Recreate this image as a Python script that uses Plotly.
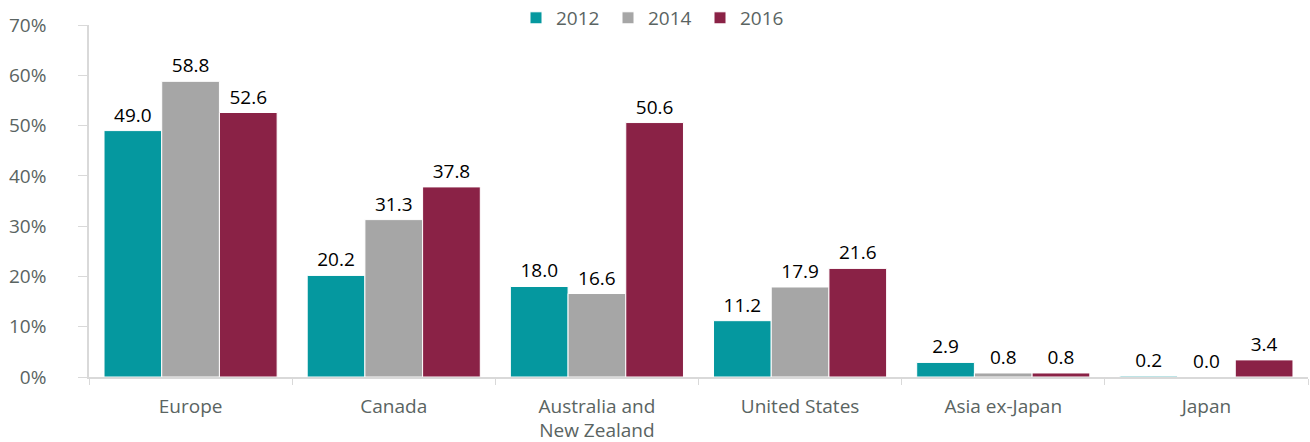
import plotly.graph_objects as go

categories = ["Europe", "Canada", "Australia and<br>New Zealand", "United States", "Asia ex-Japan", "Japan"]
v2012 = [49.0, 20.2, 18.0, 11.2, 2.9, 0.2]
v2014 = [58.8, 31.3, 16.6, 17.9, 0.8, 0.0]
v2016 = [52.6, 37.8, 50.6, 21.6, 0.8, 3.4]
series = [("2012", v2012, "#05989F"), ("2014", v2014, "#A6A6A6"), ("2016", v2016, "#8A2246")]

FONT = "Open Sans, Noto Sans, sans-serif"
fig = go.Figure()
for name, vals, col in series:
    fig.add_trace(go.Bar(
        name=name, x=categories, y=vals,
        marker=dict(color=col, line=dict(color="white", width=1)),
        text=[f"{v:.1f}" for v in vals], textposition="outside",
        textfont=dict(color="black", size=19, family=FONT),
        cliponaxis=False,
    ))

fig.update_layout(
    width=1310, height=442,
    margin=dict(l=89, r=2, t=25, b=65, autoexpand=False),
    barmode="group", bargap=0.148, bargroupgap=0,
    plot_bgcolor="white", paper_bgcolor="white",
    font=dict(family=FONT, size=19, color="#5A6462"),
    legend=dict(orientation="h", x=0.4635, xanchor="center", y=1.02, yanchor="middle",
                font=dict(size=19, color="#5A6462"), itemwidth=30, traceorder="normal",
                entrywidth=47, entrywidthmode="pixels"),
)
fig.update_xaxes(showline=True, linecolor="#D9D9D9", linewidth=1.5, ticks="outside",
                 tickson="boundaries", ticklen=6, tickcolor="#D9D9D9", automargin=False,
                 ticklabelstandoff=11, tickfont=dict(size=19, color="#5A6462"))
fig.update_yaxes(range=[0, 70], dtick=10, ticksuffix="%", showgrid=False, zeroline=False,
                 showline=True, linecolor="#D9D9D9", linewidth=1.5, ticks="outside", automargin=False,
                 ticklen=9, tickcolor="#D9D9D9", ticklabelstandoff=28,
                 tickfont=dict(size=19, color="#5A6462"))

fig.write_html("out.html", config={"displayModeBar": False},
               post_script="document.body.style.margin='0';document.body.style.overflow='hidden';")
